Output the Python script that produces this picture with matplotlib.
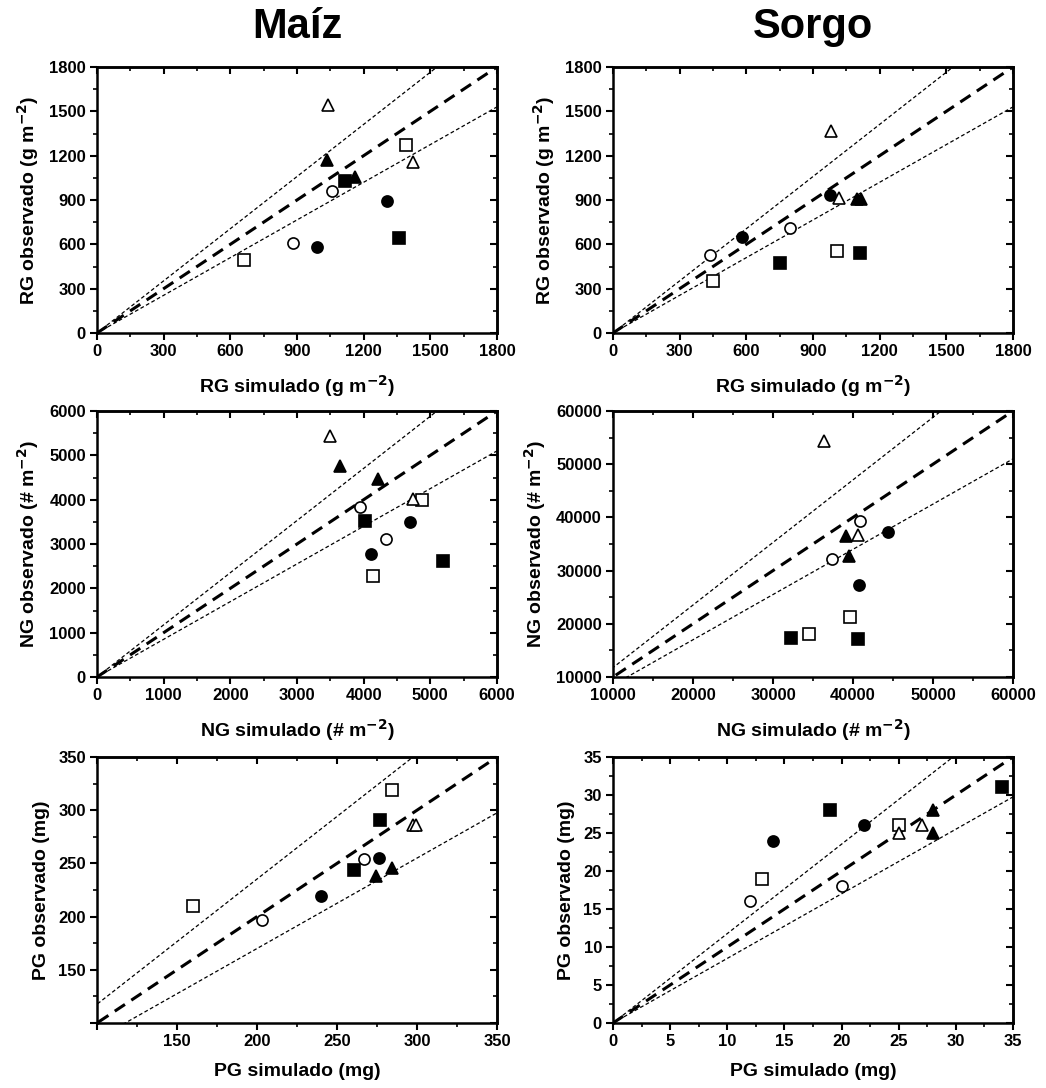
import matplotlib
matplotlib.use('Agg')
import matplotlib.pyplot as plt
from matplotlib.ticker import MultipleLocator

plt.rcParams['font.family'] = ['Liberation Sans', 'DejaVu Sans']
plt.rcParams['font.weight'] = 'bold'

# marker order for every panel: open circle x2, filled circle x2, open square x2,
# filled square x2, open triangle x2, filled triangle x2
markers = ['o', 'o', 'o', 'o', 's', 's', 's', 's', '^', '^', '^', '^']
filled = [False, False, True, True, False, False, True, True, False, False, True, True]

rg_maiz_sim = [1057, 882, 1305, 990, 1390, 663, 1115, 1357, 1040, 1420, 1035, 1162]
rg_maiz_obs = [961, 607, 893, 585, 1269, 493, 1028, 646, 1546, 1157, 1168, 1058]

rg_sorgo_sim = [798, 438, 978, 580, 448, 1008, 753, 1110, 982, 1015, 1100, 1115]
rg_sorgo_obs = [709, 526, 934, 650, 353, 556, 472, 538, 1366, 916, 910, 910]

ng_maiz_sim = [3940, 4335, 4700, 4115, 4875, 4135, 4015, 5185, 3490, 4740, 3640, 4215]
ng_maiz_obs = [3829, 3106, 3505, 2774, 4003, 2269, 3528, 2623, 5427, 4018, 4757, 4462]

ng_sorgo_sim = [40850, 37380, 44360, 40765, 39680, 34500, 32200, 40640, 36420, 40600, 39180, 39470]
ng_sorgo_obs = [39325, 32120, 37257, 27357, 21280, 18020, 17394, 17143, 54300, 36630, 36505, 32745]

pg_maiz_sim = [266.7, 203.1, 276.5, 240, 284.4, 159.8, 277.1, 260.4, 297.5, 299.5, 274.4, 284.2]
pg_maiz_obs = [254.4, 197.1, 255.4, 219.4, 318.7, 209.6, 290.5, 243.5, 286.4, 286.4, 238.2, 245.4]

pg_sorgo_sim = [12, 20, 22, 14, 25, 13, 19, 34, 25, 27, 28, 28]
pg_sorgo_obs = [16, 18, 26, 24, 26, 19, 28, 31, 25, 26, 28, 25]

rg_x = 'RG simulado (g m$^{\\mathbf{-2}}$)'
rg_y = 'RG observado (g m$^{\\mathbf{-2}}$)'
ng_x = 'NG simulado (# m$^{\\mathbf{-2}}$)'
ng_y = 'NG observado (# m$^{\\mathbf{-2}}$)'

# x data, y data, axis min, axis max, major step, labels
panels = [
    (rg_maiz_sim, rg_maiz_obs, 0, 1800, 300, rg_x, rg_y),
    (rg_sorgo_sim, rg_sorgo_obs, 0, 1800, 300, rg_x, rg_y),
    (ng_maiz_sim, ng_maiz_obs, 0, 6000, 1000, ng_x, ng_y),
    (ng_sorgo_sim, ng_sorgo_obs, 10000, 60000, 10000, ng_x, ng_y),
    (pg_maiz_sim, pg_maiz_obs, 100, 350, 50, 'PG simulado (mg)', 'PG observado (mg)'),
    (pg_sorgo_sim, pg_sorgo_obs, 0, 35, 5, 'PG simulado (mg)', 'PG observado (mg)'),
]

W, H = 1046, 1088
fig = plt.figure(figsize=(W / 100, H / 100), dpi=100)

lefts = [97, 613]
tops = [67, 411, 757]
pw, ph = 400, 266

for i, (xs, ys, lo, hi, step, xl, yl) in enumerate(panels):
    r, c = divmod(i, 2)
    ax = fig.add_axes([lefts[c] / W, 1 - (tops[r] + ph) / H, pw / W, ph / H])
    ax.set_xlim(lo, hi)
    ax.set_ylim(lo, hi)

    # 1:1 line and the two thin lines (through the origin)
    ax.plot([0, hi * 1.1], [0, hi * 1.1], color='black', lw=2.2, dashes=(4, 2.5), zorder=2)
    for k in [1 / 0.85, 0.85]:
        ax.plot([0, hi * 1.1], [0, hi * 1.1 * k], color='black', lw=0.9, dashes=(3, 2), zorder=2)

    for x, y, m, f in zip(xs, ys, markers, filled):
        ax.plot(x, y, marker=m, ms=8 if m != '^' else 9, mec='black', mew=1.2,
                mfc='black' if f else 'white', ls='none', zorder=3)

    ax.xaxis.set_major_locator(MultipleLocator(step))
    ax.yaxis.set_major_locator(MultipleLocator(step))
    ax.xaxis.set_minor_locator(MultipleLocator(step / 2))
    ax.yaxis.set_minor_locator(MultipleLocator(step / 2))
    if lo == 100:                                   # PG maiz: no label at the corner
        major = list(range(lo, hi + 1, step))
        ax.set_xticks(major)
        ax.set_yticks(major)
        ax.set_xticklabels(['' if v == 100 else str(v) for v in major])
        ax.set_yticklabels(['' if v == 100 else str(v) for v in major])

    for s in ax.spines.values():
        s.set_linewidth(1.8)
    ax.tick_params(which='major', direction='out', length=5, width=1.5, labelsize=12, pad=3,
                   top=False, right=False)
    ax.tick_params(which='minor', direction='out', length=3, width=1.2, top=False, right=False)
    for lab in ax.get_xticklabels() + ax.get_yticklabels():
        lab.set_fontweight('bold')

    # mirrored inward ticks on top and right
    sx = ax.secondary_xaxis('top')
    sy = ax.secondary_yaxis('right')
    for sa, axis in [(sx, sx.xaxis), (sy, sy.yaxis)]:
        axis.set_major_locator(MultipleLocator(step))
        axis.set_minor_locator(MultipleLocator(step / 2))
        sa.tick_params(which='major', direction='in', length=5, width=1.5,
                       labeltop=False, labelright=False)
        sa.tick_params(which='minor', direction='in', length=3, width=1.2)
        for s in sa.spines.values():
            s.set_linewidth(1.8)

    ax.set_xlabel(xl, fontsize=14, fontweight='bold', labelpad=10)
    ax.set_ylabel(yl, fontsize=14, fontweight='bold', labelpad=6)

fig.text((97 + 200) / W, 1 - 27 / H, 'Maíz', fontsize=30, fontweight='bold', ha='center', va='center')
fig.text((613 + 200) / W, 1 - 27 / H, 'Sorgo', fontsize=30, fontweight='bold', ha='center', va='center')

fig.savefig('out.png', dpi=100)
